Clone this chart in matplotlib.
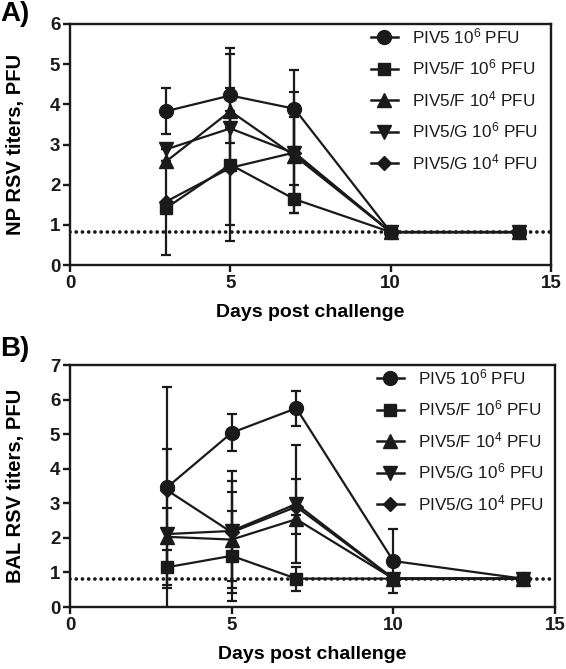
import matplotlib
matplotlib.use("Agg")
import matplotlib.pyplot as plt
from matplotlib.lines import Line2D

plt.rcParams['font.family'] = ['Liberation Sans', 'DejaVu Sans']
plt.rcParams['mathtext.fontset'] = 'custom'
plt.rcParams['mathtext.rm'] = 'Liberation Sans'
plt.rcParams['mathtext.it'] = 'Liberation Sans:italic'
plt.rcParams['mathtext.bf'] = 'Liberation Sans:bold'

days = [3, 5, 7, 10, 14]
labels = [r"PIV5 10$^{6}$ PFU", r"PIV5/F 10$^{6}$ PFU", r"PIV5/F 10$^{4}$ PFU",
          r"PIV5/G 10$^{6}$ PFU", r"PIV5/G 10$^{4}$ PFU"]
lod = 0.82

# Panel A: NP titers (means, errors)
np_piv5 = [3.83, 4.22, 3.89, 0.82, 0.82]
np_piv5_err = [0.57, 1.18, 0.96, 0, 0]
np_f6 = [1.42, 2.50, 1.64, 0.82, 0.82]
np_f6_err = [1.17, 1.90, 0.35, 0, 0]
np_f4 = [2.58, 3.83, 2.72, 0.82, 0.82]
np_f4_err = [0, 1.42, 0.97, 0, 0]
np_g6 = [2.88, 3.40, 2.78, 0.82, 0.82]
np_g6_err = [0, 0, 1.10, 0, 0]
np_g4 = [1.58, 2.42, 2.80, 0.82, 0.82]
np_g4_err = [0, 1.42, 1.50, 0, 0]

# Panel B: BAL titers
bal_piv5 = [3.46, 5.04, 5.75, 1.33, 0.82]
bal_piv5_err = [2.91, 0.54, 0.50, 0.92, 0]
bal_f6 = [1.15, 1.48, 0.82, 0.82, 0.82]
bal_f6_err = [0.50, 1.30, 0.35, 0, 0]
bal_f4 = [2.03, 1.95, 2.54, 0.82, 0.82]
bal_f4_err = [0.82, 1.39, 0.12, 0, 0]
bal_g6 = [2.11, 2.20, 2.98, 0.82, 0.82]
bal_g6_err = [2.45, 1.45, 1.71, 0, 0]
bal_g4 = [3.38, 2.16, 2.90, 0.82, 0.82]
bal_g4_err = [0, 1.76, 0.79, 0, 0]

markers = ['o', 's', '^', 'v', 'D']
msizes = [10, 9, 9.5, 9.5, 7.5]
INK = '#1a1a1a'

fig = plt.figure(figsize=(5.66, 6.69), dpi=100)
axA = fig.add_axes([70/566, 1-265/669, 481/566, 241/669])
axB = fig.add_axes([70/566, 1-607/669, 485/566, 242/669])

def draw(ax, series, errs, ymax, ylabel, leg_anchor):
    ax.plot([0, 15], [lod, lod], color=INK, lw=2.7, linestyle=(0, (0.01, 1.65)),
            dash_capstyle='round', zorder=1)
    handles = []
    for s, e, m, ms, lab in zip(series, errs, markers, msizes, labels):
        ax.errorbar(days, s, yerr=e, fmt='-', marker=m, ms=ms, color=INK,
                    lw=1.6, elinewidth=1.6, capsize=3.6, capthick=1.6, zorder=3)
        handles.append(Line2D([], [], color=INK, lw=1.8, marker=m, ms=ms, label=lab))
    ax.set_xlim(0, 15)
    ax.set_ylim(0, ymax)
    ax.set_xticks([0, 5, 10, 15])
    ax.set_yticks(range(0, ymax + 1))
    for sp in ax.spines.values():
        sp.set_linewidth(1.7)
        sp.set_color(INK)
    ax.tick_params(direction='out', length=5, width=1.7, labelsize=13.5, pad=2,
                   colors=INK)
    for t in ax.get_xticklabels() + ax.get_yticklabels():
        t.set_fontweight('bold')
    ax.set_xlabel("Days post challenge", fontsize=14, fontweight='bold', labelpad=9)
    ax.set_ylabel(ylabel, fontsize=14.5, fontweight='bold', labelpad=18)
    leg = ax.legend(handles=handles, loc='upper left', bbox_to_anchor=leg_anchor,
                    frameon=False, fontsize=12.3, handlelength=1.6, handletextpad=0.8,
                    labelspacing=0.68, borderaxespad=0, borderpad=0)
    for t in leg.get_texts():
        t.set_color(INK)

draw(axA, [np_piv5, np_f6, np_f4, np_g6, np_g4],
     [np_piv5_err, np_f6_err, np_f4_err, np_g6_err, np_g4_err], 6,
     "NP RSV titers, PFU", (0.625, 0.99))
draw(axB, [bal_piv5, bal_f6, bal_f4, bal_g6, bal_g4],
     [bal_piv5_err, bal_f6_err, bal_f4_err, bal_g6_err, bal_g4_err], 7,
     "BAL RSV titers, PFU", (0.632, 0.99))

fig.text(0.0, 1 - 1/669, "A)", fontsize=20, fontweight='bold', va='top', ha='left')
fig.text(0.0, 1 - 336/669, "B)", fontsize=20, fontweight='bold', va='top', ha='left')

fig.savefig("out.png", dpi=100)
